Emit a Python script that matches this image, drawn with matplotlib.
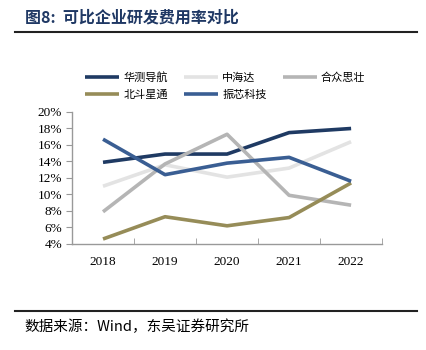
import matplotlib
matplotlib.use('Agg')
import matplotlib.pyplot as plt
from matplotlib.ticker import FuncFormatter, FixedLocator

plt.rcParams['font.family'] = ['Liberation Serif', 'Noto Sans CJK SC']

years = ['2018', '2019', '2020', '2021', '2022']
names = ['华测导航', '中海达', '合众思壮', '北斗星通', '振芯科技']
huace = [13.9, 14.9, 14.9, 17.5, 18.0]
zhonghaida = [11.0, 13.6, 12.1, 13.2, 16.4]
hezhong = [7.9, 13.7, 17.3, 9.9, 8.7]
beidou = [4.6, 7.3, 6.2, 7.2, 11.4]
zhenxin = [16.7, 12.4, 13.8, 14.5, 11.6]
colors = ['#1F3A63', '#E3E3E3', '#B5B5B5', '#968C58', '#3A5E93']

fig = plt.figure(figsize=(4.26, 3.5), dpi=100)
ax = fig.add_axes([0.169, 0.303, 0.728, 0.377])

x = range(len(years))
lines = []
for vals, name, c in zip([huace, zhonghaida, hezhong, beidou, zhenxin], names, colors):
    ln, = ax.plot(x, vals, color=c, lw=2.6, label=name, solid_capstyle='butt')
    lines.append(ln)

ax.set_xlim(-0.5, 4.5)
ax.set_ylim(4, 20)
ax.set_yticks(range(4, 21, 2))
ax.yaxis.set_major_formatter(FuncFormatter(lambda v, p: f'{v:.0f}%'))
ax.set_xticks(list(x))
ax.set_xticklabels(years)
ax.xaxis.set_minor_locator(FixedLocator([i - 0.5 for i in range(6)]))
ax.tick_params(axis='x', which='major', length=0, pad=9, labelsize=9.5)
ax.tick_params(axis='x', which='minor', length=4, color='#999999', direction='in')
ax.tick_params(axis='y', length=4, color='#999999', labelsize=9.5, pad=3)
for s in ['top', 'right']:
    ax.spines[s].set_visible(False)
for s in ['left', 'bottom']:
    ax.spines[s].set_color('#999999')
    ax.spines[s].set_linewidth(1)

# legend fills column-wise, reorder so rows read like the original
order = [0, 3, 1, 4, 2]
fig.legend([lines[i] for i in order], [names[i] for i in order],
           loc='upper left', bbox_to_anchor=(0.177, 0.823), ncol=3,
           frameon=False, prop={'family': 'Noto Sans CJK SC', 'size': 8},
           handlelength=3.0, columnspacing=1.5, handletextpad=0.4,
           labelspacing=0.6)

fig.text(0.058, 0.951, '图8:  可比企业研发费用率对比', fontsize=11.5, fontweight='bold',
         color='#1F3864', va='center', family=['Noto Sans CJK SC'])
fig.add_artist(plt.Line2D([0.035, 0.98], [0.908, 0.908], color='#222222', lw=1.5))
fig.add_artist(plt.Line2D([0.035, 0.98], [0.111, 0.111], color='#222222', lw=1.5))
fig.text(0.058, 0.066, '数据来源：Wind，东吴证券研究所', fontsize=10.5, va='center',
         family=['Noto Sans CJK SC'])

fig.savefig('out.png', dpi=100)
